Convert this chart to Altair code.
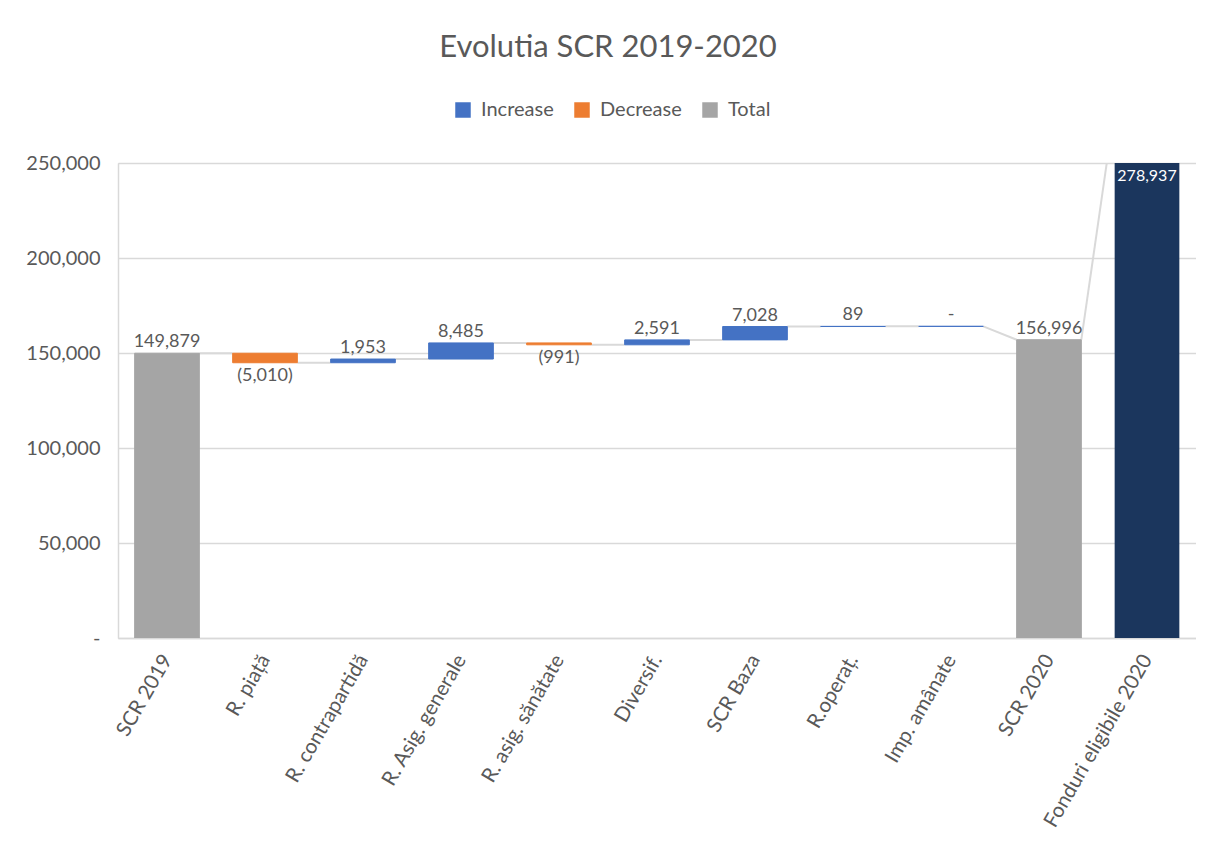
import json
import altair as alt
import pandas as pd

# ---- data ----
categories = ["SCR 2019", "R. piață", "R. contrapartidă", "R. Asig. generale",
              "R. asig. sănătate", "Diversif.", "SCR Baza", "R.operaț.",
              "Imp. amânate", "SCR 2020", "Fonduri eligibile 2020"]
values = [149879, -5010, 1953, 8485, -991, 2591, 7028, 89, 0, 156996, 278937]
kinds = ["Total", "Decrease", "Increase", "Increase", "Decrease", "Increase",
         "Increase", "Increase", "Increase", "Total", "Eligible"]
y_ticks = [0, 50000, 100000, 150000, 200000, 250000]

Y_MAX = 250000
HALF = 0.33
GREY_TEXT = "#595959"
FONT = "Lato"

# ---- build waterfall table ----
rows = []
running = 0
for i, (c, v, k) in enumerate(zip(categories, values, kinds)):
    if k in ("Total", "Eligible"):
        start, end = 0, v
        entry = v
        running = v
    else:
        start, end = running, running + v
        entry = start
        running = end
    if v == 0:
        label = "-"
    elif v < 0:
        label = f"({abs(v):,})"
    else:
        label = f"{v:,}"
    if k == "Decrease":
        pos, ly = "below", min(start, end)
    elif k == "Eligible":
        pos, ly = "inside", min(end, Y_MAX)
    else:
        pos, ly = "above", max(start, end)
    rows.append(dict(idx=i, cat=c, kind=k, start=start, end=end, entry=entry,
                     level=running, x0=i - HALF, x1=i + HALF,
                     label=label, pos=pos, ly=ly))
df = pd.DataFrame(rows)

con = []
for i in range(len(rows) - 1):
    con.append(dict(cx0=rows[i]["x1"], cx1=rows[i + 1]["x0"],
                    cy0=rows[i]["level"], cy1=rows[i + 1]["entry"]))
dcon = pd.DataFrame(con)

xscale = alt.Scale(domain=[-0.5, len(categories) - 0.5], nice=False, zero=False)
yscale = alt.Scale(domain=[0, Y_MAX], nice=False)

label_expr = json.dumps(categories, ensure_ascii=False) + "[round(datum.value)]"

x_axis = alt.Axis(values=list(range(len(categories))), labelExpr=label_expr,
                  title=None, grid=False, ticks=False, labelAngle=-60,
                  labelAlign="right", labelBaseline="middle",
                  labelFontSize=20.5, labelFont=FONT, labelColor=GREY_TEXT,
                  labelPadding=18, domainColor="#D9D9D9", domainWidth=1.5,
                  labelOverlap=False, labelBound=False, labelFlush=False,
                  labelLimit=400)
y_axis = alt.Axis(values=y_ticks,
                  labelExpr="datum.value == 0 ? '-' : format(datum.value, ',')",
                  title=None, ticks=False, grid=True, gridColor="#D9D9D9",
                  gridWidth=1.5, domainColor="#D9D9D9", domainWidth=1.5,
                  labelFontSize=20, labelFont=FONT, labelColor=GREY_TEXT,
                  labelPadding=18)

color_scale = alt.Scale(domain=["Increase", "Decrease", "Total"],
                        range=["#4472C4", "#ED7D31", "#A5A5A5"])

base = alt.Chart(df)

connectors = alt.Chart(dcon).mark_rule(color="#D9D9D9", strokeWidth=2,
                                       clip=True).encode(
    x=alt.X("cx0:Q", scale=xscale, axis=x_axis),
    x2="cx1:Q",
    y=alt.Y("cy0:Q", scale=yscale, axis=y_axis),
    y2="cy1:Q",
)

bars = base.transform_filter(alt.datum.kind != "Eligible").mark_bar(
    strokeWidth=1, clip=True
).encode(
    x=alt.X("x0:Q", scale=xscale, axis=x_axis),
    x2="x1:Q",
    y=alt.Y("start:Q", scale=yscale, axis=y_axis),
    y2="end:Q",
    color=alt.Color("kind:N", scale=color_scale,
                    sort=["Increase", "Decrease", "Total"],
                    legend=alt.Legend(title=None, orient="none", legendX=335,
                                      legendY=-63, direction="horizontal",
                                      symbolType="square", symbolSize=240,
                                      symbolStrokeWidth=0, labelFontSize=20,
                                      labelFont=FONT, labelColor=GREY_TEXT,
                                      columnPadding=18, labelOffset=8)),
    stroke=alt.Stroke("kind:N", scale=color_scale, legend=None),
)

eligible = base.transform_filter(alt.datum.kind == "Eligible").mark_bar(
    color="#1B365D", clip=True
).encode(
    x=alt.X("x0:Q", scale=xscale, axis=x_axis),
    x2="x1:Q",
    y=alt.Y("start:Q", scale=yscale, axis=y_axis),
    y2="end:Q",
)

def labels(pos, baseline, dy, color, size=18):
    return base.transform_filter(alt.datum.pos == pos).mark_text(
        baseline=baseline, dy=dy, fontSize=size, font=FONT, color=color
    ).encode(
        x=alt.X("idx:Q", scale=xscale, axis=x_axis),
        y=alt.Y("ly:Q", scale=yscale, axis=y_axis),
        text="label:N",
    )

lab_above = labels("above", "bottom", -2, GREY_TEXT)
lab_below = labels("below", "top", 4, GREY_TEXT)
lab_inside = labels("inside", "top", 5, "white", 16)

chart = alt.layer(connectors, bars, eligible, lab_above, lab_below, lab_inside).properties(
    width=1078,
    height=475,
    title=alt.TitleParams("Evolutia SCR 2019-2020", fontSize=31, font=FONT,
                          fontWeight="normal", color=GREY_TEXT,
                          anchor="middle", offset=36, dx=-49),
    padding={"left": 110, "top": 155, "right": 0, "bottom": 203},
    autosize=alt.AutoSizeParams(type="none"),
).configure_view(strokeWidth=0, stroke="transparent").configure(background="white")

chart.save("out.html", embed_options={"renderer": "svg", "actions": False})
